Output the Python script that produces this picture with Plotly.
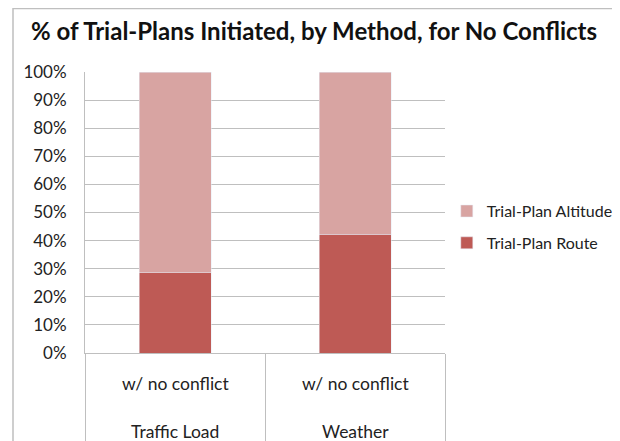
import plotly.graph_objects as go

groups = ["Traffic Load", "Weather"]
conditions = ["w/ no conflict", "w/ no conflict"]
route = [0.285, 0.423]
altitude = [0.715, 0.577]
y_ticks = [0, 0.1, 0.2, 0.3, 0.4, 0.5, 0.6, 0.7, 0.8, 0.9, 1.0]
y_labels = ["0%", "10%", "20%", "30%", "40%", "50%", "60%", "70%", "80%", "90%", "100%"]

FONT = "Lato"
GRID = "#BFBFBF"

fig = go.Figure()
fig.add_trace(go.Bar(name="Trial-Plan Route", x=groups, y=route,
                     marker_color="#BE5A55", legendgroup="r", legendrank=2))
fig.add_trace(go.Bar(name="Trial-Plan Altitude", x=groups, y=altitude,
                     marker_color="#D8A4A2", legendgroup="a", legendrank=1))

# page body adds an 8px offset, so the figure is 8px smaller than the window
fig.update_layout(
    width=612, height=433,
    margin=dict(l=77, r=175, t=64, b=88, autoexpand=False),
    barmode="stack", bargap=0.6,
    paper_bgcolor="white", plot_bgcolor="white",
    font=dict(family=FONT, size=15, color="#222"),
    title=dict(text="<b>% of Trial-Plans Initiated, by Method, for No Conflicts</b>",
               x=0.5, xanchor="center", y=0.945, yanchor="middle",
               font=dict(family=FONT, size=24, color="#111")),
    legend=dict(x=1.005, y=0.448, xanchor="left", yanchor="middle",
                traceorder="grouped", tracegroupgap=8,
                font=dict(family=FONT, size=16, color="#222"),
                itemwidth=30),
    showlegend=True,
)
fig.update_yaxes(range=[0, 1], tickvals=y_ticks, ticktext=y_labels,
                 showgrid=True, gridcolor=GRID, gridwidth=1,
                 showline=True, linecolor=GRID, zeroline=False,
                 ticks="outside", ticklen=14, tickcolor="rgba(0,0,0,0)",
                 automargin=False, tickfont=dict(size=17))
fig.update_xaxes(type="category", showline=True, linecolor=GRID,
                 ticks="outside", tickson="boundaries", ticklen=90,
                 tickcolor=GRID, tickwidth=1, showticklabels=False,
                 automargin=False)

for g, c in zip(groups, conditions):
    fig.add_annotation(x=g, xref="x", y=-0.107, yref="paper", text=c,
                       showarrow=False, yanchor="middle",
                       font=dict(family=FONT, size=17.5, color="#222"))
    fig.add_annotation(x=g, xref="x", y=-0.281, yref="paper", text=g,
                       showarrow=False, yanchor="middle",
                       font=dict(family=FONT, size=17.5, color="#222"))

fig.add_shape(type="rect", xref="paper", yref="paper",
              x0=-0.2, x1=1.469, y0=-0.5, y1=1.226,
              line=dict(color=GRID, width=1.5), layer="below")

fig.write_html("out.html")
